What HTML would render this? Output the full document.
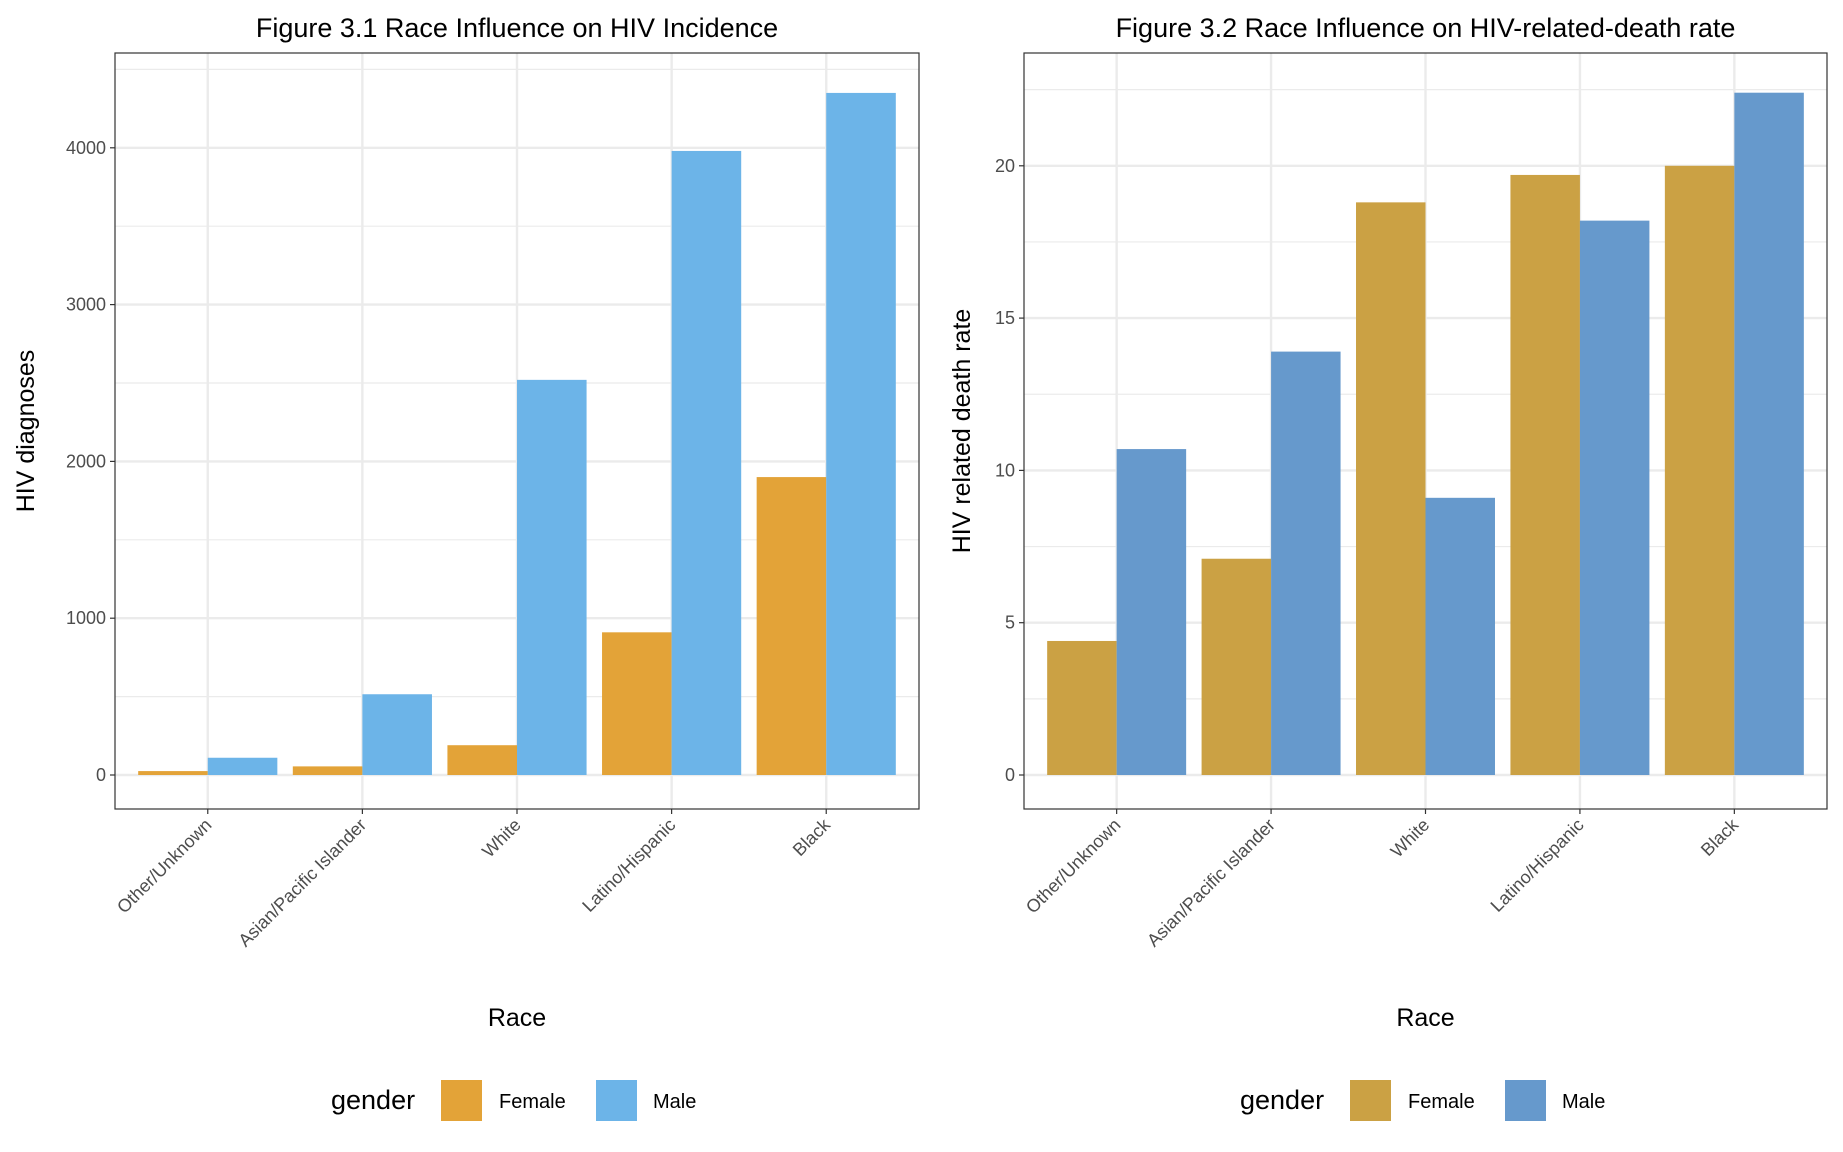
<!DOCTYPE html>
<html><head><meta charset="utf-8"><style>
body{margin:0;background:#fff;}
svg{display:block;font-family:"Liberation Sans",Arial,sans-serif;}
</style></head><body>
<svg id="c" width="1843" height="1152" xmlns="http://www.w3.org/2000/svg"></svg>
<script>
const categories = ["Other/Unknown","Asian/Pacific Islander","White","Latino/Hispanic","Black"];
const incidenceFemale = [25, 55, 190, 910, 1900];
const incidenceMale = [110, 515, 2520, 3980, 4350];
const deathFemale = [4.4, 7.1, 18.8, 19.7, 20.0];
const deathMale = [10.7, 13.9, 9.1, 18.2, 22.4];
const incidenceTicks = [0, 1000, 2000, 3000, 4000];
const deathTicks = [0, 5, 10, 15, 20];
const seriesNames = ["Female","Male"];

const svg = document.getElementById('c');
const NS = 'http://www.w3.org/2000/svg';
function mk(tag, attrs, parent){const e=document.createElementNS(NS,tag);for(const k in attrs)e.setAttribute(k,attrs[k]);(parent||svg).appendChild(e);return e;}

function panel(cfg){
  const g = mk('g',{});
  
  
  const L=cfg.left,R=cfg.right,T=53,B=809;
  const y0=cfg.y0, ppu=cfg.ppu;
  const y = v => y0 - v*ppu;
  const step=(R-L)/5.2;
  const xc = i => L + step*(0.6+i);
  mk('rect',{x:L,y:T,width:R-L,height:B-T,fill:'#fff'},g);
  for(let i=0;i<=cfg.minorCount;i++){const v=cfg.minorStep*(i+0.5);const yy=y(v);if(yy>T&&yy<B)mk('line',{x1:L,x2:R,y1:yy,y2:yy,stroke:'#ebebeb','stroke-width':1.2},g);}
  cfg.ticks.forEach(t=>{const yy=y(t);
    mk('line',{x1:L,x2:R,y1:yy,y2:yy,stroke:'#ebebeb','stroke-width':2.4},g);
    mk('line',{x1:L-5,x2:L,y1:yy,y2:yy,stroke:'#333','stroke-width':1.2},g);
    const tx=mk('text',{x:L-9,y:yy+6,'text-anchor':'end','font-size':18,fill:'#4d4d4d'},g);tx.textContent=t;
    
    
  });
  categories.forEach((c,i)=>{const xx=xc(i);
    mk('line',{x1:xx,x2:xx,y1:T,y2:B,stroke:'#ebebeb','stroke-width':2.4},g);
  });
  const bw=step*0.45;
  categories.forEach((c,i)=>{const xx=xc(i);
    const rf=mk('rect',{x:xx-bw,y:y(cfg.f[i]),width:bw,height:y(0)-y(cfg.f[i]),fill:cfg.cf},g);
    
    
    const rm=mk('rect',{x:xx,y:y(cfg.m[i]),width:bw,height:y(0)-y(cfg.m[i]),fill:cfg.cm},g);
    
    
    mk('line',{x1:xx,x2:xx,y1:B,y2:B+5,stroke:'#333','stroke-width':1.2},g);
    const tx=mk('text',{x:xx+5,y:B+17,'text-anchor':'end','font-size':18,fill:'#4d4d4d',transform:`rotate(-45 ${xx+5} ${B+17})`},g);tx.textContent=c;
    
    
  });
  mk('rect',{x:L,y:T,width:R-L,height:B-T,fill:'none',stroke:'#333','stroke-width':1.2},g);
  const mid=(L+R)/2;
  const ti=mk('text',{x:mid,y:37,'text-anchor':'middle','font-size':27,fill:'#000'},g);ti.textContent=cfg.title;
  
  
  const xt=mk('text',{x:mid,y:1026,'text-anchor':'middle','font-size':25,fill:'#000'},g);xt.textContent='Race';
  
  
  const yt=mk('text',{x:cfg.ytx,y:(T+B)/2,'text-anchor':'middle','font-size':25,fill:'#000',transform:`rotate(-90 ${cfg.ytx} ${(T+B)/2})`},g);yt.textContent=cfg.ytitle;
  
  
  const lg=mk('g',{},g);
  
  
  const lx=cfg.legX;
  const gt=mk('text',{x:lx,y:1109,'font-size':27,fill:'#000'},lg);gt.textContent='gender';
  [[cfg.cf,seriesNames[0],lx+110,lx+168],[cfg.cm,seriesNames[1],lx+265,lx+322]].forEach(([col,n,bx,tx])=>{
    const r=mk('rect',{x:bx,y:1080,width:41,height:41,fill:col},lg);
    
    
    const t=mk('text',{x:tx,y:1108,'font-size':20,fill:'#000'},lg);t.textContent=n;
    
    
  });
}
panel({name:'incidence-panel',left:115,right:919,y0:775,ppu:156.8/1000,ticks:incidenceTicks,minorStep:1000,minorCount:5,
  f:incidenceFemale,m:incidenceMale,cf:'#E3A338',cm:'#6CB4E8',title:'Figure 3.1 Race Influence on HIV Incidence',ytitle:'HIV diagnoses',ytx:34,legX:331});
panel({name:'death-rate-panel',left:1024,right:1827,y0:775,ppu:152.3/5,ticks:deathTicks,minorStep:5,minorCount:5,
  f:deathFemale,m:deathMale,cf:'#CBA144',cm:'#6699CC',title:'Figure 3.2 Race Influence on HIV-related-death rate',ytitle:'HIV related death rate',ytx:970,legX:1240});
</script>
</body></html>
